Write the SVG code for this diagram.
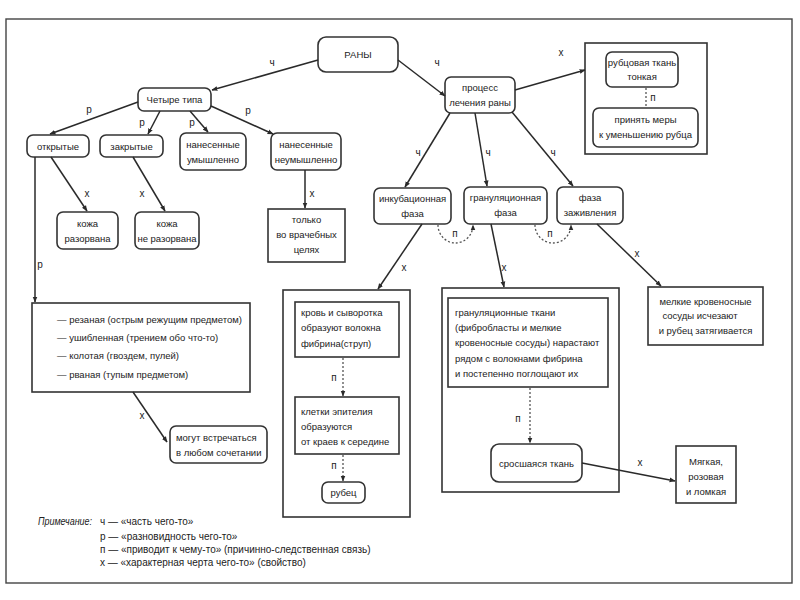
<svg xmlns="http://www.w3.org/2000/svg" width="800" height="600" viewBox="0 0 800 600">
<defs>
<marker id="arr" viewBox="0 0 10 10" refX="9" refY="5" markerWidth="6" markerHeight="6" orient="auto-start-reverse" markerUnits="userSpaceOnUse">
<path d="M0,1 L10,5 L0,9 Z" fill="#2a2a2a"/>
</marker>
</defs>
<style>
text{font-family:"Liberation Sans","DejaVu Sans",sans-serif;font-size:9.5px;fill:#222;}
.c{text-anchor:middle;}
.box{fill:#fff;stroke:#333;stroke-width:1.6;}
.frame{fill:none;stroke:#444;stroke-width:1.4;}
.ln{fill:none;stroke:#2a2a2a;stroke-width:1.5;marker-end:url(#arr);}
.dt{fill:none;stroke:#555;stroke-width:1.3;stroke-dasharray:2,2;marker-end:url(#arr);}
.dtn{fill:none;stroke:#555;stroke-width:1.3;stroke-dasharray:2,2;}
.lbl{font-size:10px;text-anchor:middle;}
.lg{font-size:10px;}
</style>
<rect width="800" height="600" fill="#fff"/>
<rect x="6" y="19" width="786" height="564" class="frame"/>

<g id="n-rany"><rect x="318" y="37" width="80" height="35" rx="8" class="box"/><text x="358" y="58" class="c">РАНЫ</text></g>
<g id="n-chetyre"><rect x="138" y="88" width="73" height="23" rx="6" class="box"/><text x="174.5" y="103" class="c">Четыре типа</text></g>
<g id="n-otkrytye"><rect x="27" y="135" width="62" height="22" rx="6" class="box"/><text x="58" y="150" class="c">открытые</text></g>
<g id="n-zakrytye"><rect x="100" y="135" width="63" height="22" rx="6" class="box"/><text x="131.5" y="150" class="c">закрытые</text></g>
<g id="n-umysh"><rect x="180" y="133" width="66" height="37" rx="6" class="box"/><text x="213" y="148" class="c">нанесенные</text><text x="213" y="163" class="c">умышленно</text></g>
<g id="n-neumysh"><rect x="271" y="133" width="70" height="37" rx="6" class="box"/><text x="306" y="148" class="c">нанесенные</text><text x="306" y="163" class="c">неумышленно</text></g>
<g id="n-kozha1"><rect x="57" y="212" width="61" height="37" rx="6" class="box"/><text x="87.5" y="227" class="c">кожа</text><text x="87.5" y="242" class="c">разорвана</text></g>
<g id="n-kozha2"><rect x="135" y="212" width="64" height="37" rx="6" class="box"/><text x="167" y="227" class="c">кожа</text><text x="167" y="242" class="c">не разорвана</text></g>
<g id="n-tolko"><rect x="268" y="209" width="77" height="53" class="box"/><text x="306.5" y="223" class="c">только</text><text x="306.5" y="238" class="c">во врачебных</text><text x="306.5" y="253" class="c">целях</text></g>

<g id="n-process"><rect x="445" y="77" width="70" height="36" rx="6" class="box"/><text x="480" y="91" class="c">процесс</text><text x="480" y="106" class="c">лечения раны</text></g>
<g id="n-rubcovaya-group"><rect x="585" y="43" width="122" height="111" class="box"/>
<g id="n-rubcovaya"><rect x="606" y="52" width="72" height="35" rx="6" class="box"/><text x="642" y="66" class="c">рубцовая ткань</text><text x="642" y="80" class="c">тонкая</text></g>
<g id="n-prinyat"><rect x="593" y="108" width="105" height="39" rx="6" class="box"/><text x="645.5" y="123" class="c">принять меры</text><text x="645.5" y="138" class="c">к уменьшению рубца</text></g>
</g>

<g id="n-inkub"><rect x="374" y="188" width="77" height="36" rx="6" class="box"/><text x="412.5" y="202" class="c">инкубационная</text><text x="412.5" y="217" class="c">фаза</text></g>
<g id="n-granul"><rect x="464" y="187" width="83" height="37" rx="6" class="box"/><text x="505.5" y="201" class="c">грануляционная</text><text x="505.5" y="216" class="c">фаза</text></g>
<g id="n-zazhiv"><rect x="557" y="187" width="66" height="37" rx="6" class="box"/><text x="590" y="201" class="c">фаза</text><text x="590" y="216" class="c">заживления</text></g>

<g id="n-types"><rect x="32" y="303" width="218" height="89" class="box"/>
<text x="57" y="323">— резаная (острым режущим предметом)</text>
<text x="57" y="341">— ушибленная (трением обо что-то)</text>
<text x="57" y="359">— колотая (гвоздем, пулей)</text>
<text x="57" y="378">— рваная (тупым предметом)</text></g>
<g id="n-mogut"><rect x="170" y="426" width="97" height="37" rx="6" class="box"/><text x="176" y="441">могут встречаться</text><text x="176" y="456">в любом сочетании</text></g>

<g id="n-inkub-box"><rect x="283" y="290" width="127" height="227" class="box"/>
<g id="n-krov"><rect x="295" y="302" width="104" height="55" class="box"/><text x="301" y="316">кровь и сыворотка</text><text x="301" y="331">образуют волокна</text><text x="301" y="347">фибрина(струп)</text></g>
<g id="n-kletki"><rect x="295" y="397" width="104" height="57" class="box"/><text x="301" y="415">клетки эпителия</text><text x="301" y="430">образуются</text><text x="301" y="445">от краев к середине</text></g>
<g id="n-rubec"><rect x="322" y="482" width="43" height="21" rx="6" class="box"/><text x="343.5" y="496" class="c">рубец</text></g>
</g>

<g id="n-gran-box"><rect x="442" y="288" width="177" height="204" class="box"/>
<g id="n-granul-tkani"><rect x="448" y="298" width="160" height="89" class="box"/>
<text x="455" y="316">грануляционные ткани</text>
<text x="455" y="331">(фибробласты и мелкие</text>
<text x="455" y="346">кровеносные сосуды) нарастают</text>
<text x="455" y="362">рядом с волокнами фибрина</text>
<text x="455" y="377">и постепенно поглощают их</text></g>
<g id="n-srosh"><rect x="491" y="444" width="91" height="38" rx="8" class="box"/><text x="536.5" y="467" class="c">сросшаяся ткань</text></g>
</g>
<g id="n-myagkaya"><rect x="676" y="446" width="60" height="57" class="box"/><text x="706" y="465" class="c">Мягкая,</text><text x="706" y="480" class="c">розовая</text><text x="706" y="495" class="c">и ломкая</text></g>
<g id="n-melkie"><rect x="648" y="287" width="115" height="58" class="box"/><text x="705.5" y="305" class="c">мелкие кровеносные</text><text x="700" y="319" class="c">сосуды исчезают</text><text x="705.5" y="334" class="c">и рубец затягивается</text></g>

<g id="connectors">
<line x1="318" y1="60" x2="212" y2="90" class="ln"/>
<text x="272" y="66" class="lbl">ч</text>
<line x1="398" y1="60" x2="445" y2="96" class="ln"/>
<text x="437" y="66" class="lbl">ч</text>
<line x1="515" y1="90" x2="585" y2="70" class="ln"/>
<text x="561" y="56" class="lbl">х</text>
<line x1="646" y1="88" x2="646" y2="107" class="dtn"/>
<text x="653" y="101" class="lbl">п</text>

<line x1="138" y1="102" x2="50" y2="134" class="ln"/>
<text x="89" y="113" class="lbl">р</text>
<line x1="160" y1="111" x2="148" y2="134" class="ln"/>
<text x="142" y="126" class="lbl">р</text>
<line x1="190" y1="111" x2="208" y2="132" class="ln"/>
<text x="192" y="126" class="lbl">р</text>
<line x1="211" y1="106" x2="273" y2="134" class="ln"/>
<text x="248" y="114" class="lbl">р</text>

<line x1="51" y1="157" x2="87" y2="211" class="ln"/>
<text x="87" y="197" class="lbl">х</text>
<line x1="133" y1="157" x2="165" y2="211" class="ln"/>
<text x="142" y="197" class="lbl">х</text>
<line x1="305" y1="170" x2="305" y2="208" class="ln"/>
<text x="312" y="197" class="lbl">х</text>
<line x1="35" y1="157" x2="35" y2="302" class="ln"/>
<text x="40" y="268" class="lbl">р</text>
<line x1="133" y1="392" x2="167" y2="442" class="ln"/>
<text x="142" y="419" class="lbl">х</text>

<line x1="450" y1="113" x2="405" y2="187" class="ln"/>
<text x="418" y="156" class="lbl">ч</text>
<line x1="475" y1="113" x2="487" y2="186" class="ln"/>
<text x="488" y="156" class="lbl">ч</text>
<line x1="512" y1="112" x2="573" y2="186" class="ln"/>
<text x="553" y="156" class="lbl">ч</text>

<path d="M438,225 A17.5,18 0 0 0 473,225" class="dt"/>
<text x="455" y="237" class="lbl">п</text>
<path d="M535,225 A18,18 0 0 0 571,225" class="dt"/>
<text x="550" y="237" class="lbl">п</text>

<line x1="422" y1="224" x2="378" y2="289" class="ln"/>
<text x="404" y="271" class="lbl">х</text>
<line x1="491" y1="224" x2="504" y2="287" class="ln"/>
<text x="504" y="271" class="lbl">х</text>
<line x1="597" y1="224" x2="661" y2="286" class="ln"/>
<text x="637" y="257" class="lbl">х</text>

<line x1="343" y1="358" x2="343" y2="396" class="dt"/>
<text x="334" y="381" class="lbl">п</text>
<line x1="343" y1="455" x2="343" y2="481" class="dt"/>
<text x="334" y="469" class="lbl">п</text>
<line x1="530" y1="388" x2="530" y2="443" class="dt"/>
<text x="518" y="422" class="lbl">п</text>
<line x1="582" y1="463" x2="675" y2="481" class="ln"/>
<text x="640" y="466" class="lbl">х</text>
</g>

<g id="legend">
<text x="38" y="525" class="lg" style="font-style:italic" textLength="54" lengthAdjust="spacingAndGlyphs">Примечание:</text>
<text x="100" y="525" class="lg">ч — «часть чего-то»</text>
<text x="100" y="540" class="lg">р — «разновидность чего-то»</text>
<text x="100" y="553" class="lg">п — «приводит к чему-то» (причинно-следственная связь)</text>
<text x="100" y="566" class="lg">х — «характерная черта чего-то» (свойство)</text>
</g>
</svg>
